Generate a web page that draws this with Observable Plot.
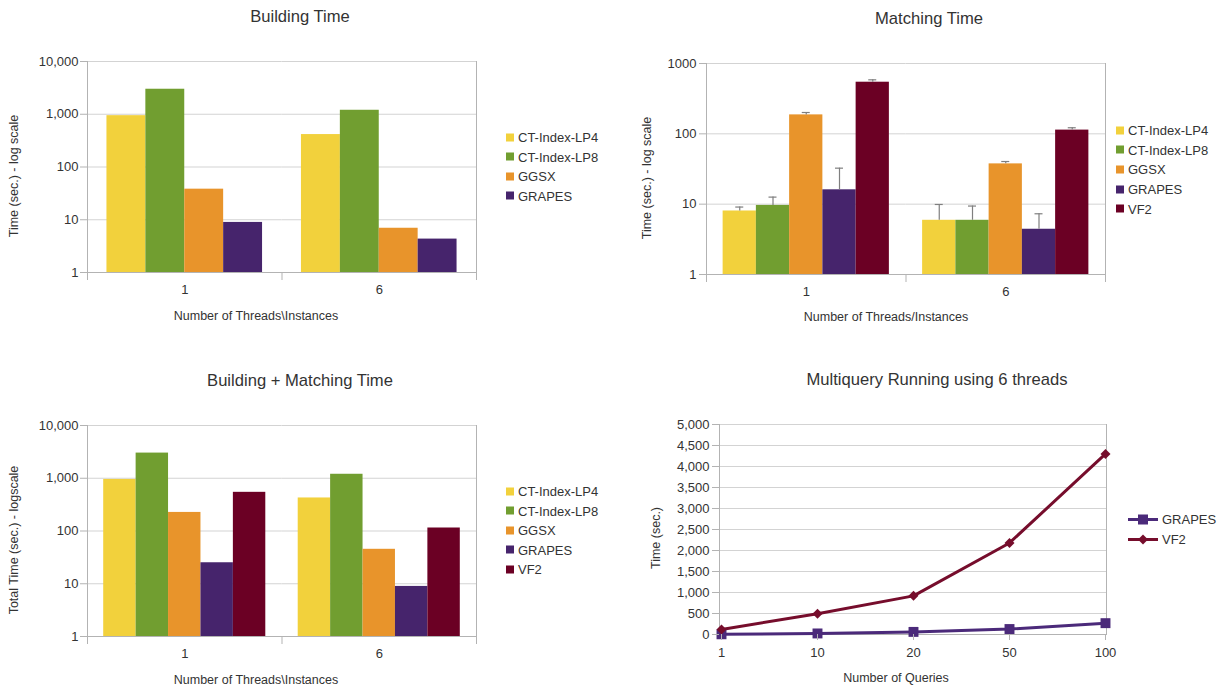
<!DOCTYPE html>
<html>
<head>
<meta charset="utf-8">
<script src="https://cdn.jsdelivr.net/npm/d3@7"></script>
<script src="https://cdn.jsdelivr.net/npm/@observablehq/plot@0.6"></script>
<style>
  body { margin: 0; background: #fff; font-family: "Liberation Sans", Arial, sans-serif; color: #333; }
  #page { position: relative; width: 1220px; height: 687px; overflow: hidden; background: #fff; }
  .abs { position: absolute; white-space: nowrap; }
  .c { transform: translate(-50%, -50%); }
  .r { transform: translate(-50%, -50%) rotate(-90deg); }
  .title { font-size: 16.6px; color: #333; }
  .atitle { font-size: 12.5px; color: #333; }
  .leg { font-size: 13px; color: #333; display: flex; align-items: center; transform: translateY(-50%); }
  .sw { width: 8px; height: 8px; margin-right: 4px; display: inline-block; }
  .panel { position: absolute; }
</style>
</head>
<body>
<div id="page"></div>
<script>
// ---------------- DATA ----------------
const threads = ["1", "6"];
const buildSeries = ["CT-Index-LP4", "CT-Index-LP8", "GGSX", "GRAPES"];
const buildTime1 = [940, 2980, 38, 8.9];
const buildTime6 = [412, 1190, 6.9, 4.3];

const matchSeries = ["CT-Index-LP4", "CT-Index-LP8", "GGSX", "GRAPES", "VF2"];
const matchTime1 = [8.0, 9.6, 186, 16, 542];
const matchErrTop1 = [9.1, 12.6, 201, 32.5, 586];
const matchTime6 = [5.9, 5.9, 37.4, 4.4, 113];
const matchErrTop6 = [9.9, 9.4, 40.4, 7.3, 122];

const totalTime1 = [950, 3000, 225, 25, 541];
const totalTime6 = [423, 1190, 45, 8.9, 114];

const queries = ["1", "10", "20", "50", "100"];
const lineSeries = ["GRAPES", "VF2"];
const grapesQuery = [5, 25, 62, 130, 270];
const vf2Query = [120, 495, 920, 2180, 4300];

const logTicks10k = [1, 10, 100, 1000, 10000];
const logTicks1k = [1, 10, 100, 1000];
const linTicks = [0, 500, 1000, 1500, 2000, 2500, 3000, 3500, 4000, 4500, 5000];

const barColors = ["#f2d13c", "#719e30", "#e8942b", "#46246c", "#6b0024"];
const lineColors = ["#4b2a7a", "#760d2c"];

// ---------------- STYLE ----------------
const gridColor = "#d3d3d3";
const axisColor = "#b3b3b3";
const errColor = "#7f7f7f";
const font = "'Liberation Sans', Arial, sans-serif";
const page = document.getElementById("page");

function rows(series, v1, v6, e1, e6) {
  return threads.flatMap((t, ti) => series.map((s, i) => ({
    threads: t, series: s,
    value: (ti ? v6 : v1)[i],
    err: e1 ? (ti ? e6 : e1)[i] : null
  })));
}

function addText(cls, text, x, y) {
  const d = document.createElement("div");
  d.className = "abs " + cls;
  d.textContent = text;
  d.style.left = x + "px";
  d.style.top = y + "px";
  page.appendChild(d);
}

function addLegend(series, colors, x, y, step) {
  series.forEach((s, i) => {
    const d = document.createElement("div");
    d.className = "abs leg";
    d.style.left = x + "px";
    d.style.top = (y + i * step) + "px";
    const sw = document.createElement("span");
    sw.className = "sw";
    sw.style.background = colors[i];
    d.appendChild(sw);
    d.appendChild(document.createTextNode(s));
    page.appendChild(d);
  });
}

function barPanel(o) {
  const innerW = o.width - o.ml - o.mr;
  const innerH = o.height - o.mt - o.mb;
  const bw = innerW / threads.length / (o.series.length + 1);
  const capInset = (bw - 8) / 2;
  const data = o.data;
  const marks = [
    Plot.gridY(o.ticks, {stroke: gridColor, strokeOpacity: 1}),
    Plot.barY(data, {fx: "threads", x: "series", y1: 1, y2: "value", fill: "series"})
  ];
  if (o.errors) {
    marks.push(
      Plot.ruleX(data, {fx: "threads", x: "series", y1: "value", y2: "err", stroke: errColor, strokeWidth: 1.2}),
      Plot.tickY(data, {fx: "threads", x: "series", y: "err", stroke: errColor, strokeWidth: 1.2, insetLeft: capInset, insetRight: capInset})
    );
  }
  marks.push(
    Plot.frame({anchor: "left", stroke: axisColor, facetAnchor: "left"}),
    Plot.frame({anchor: "right", stroke: axisColor, facetAnchor: "right"}),
    Plot.frame({anchor: "bottom", stroke: axisColor}),
    Plot.frame({anchor: "left", stroke: axisColor, insetTop: innerH, insetBottom: -7}),
    Plot.frame({anchor: "right", stroke: axisColor, insetTop: innerH, insetBottom: -7, facetAnchor: "right"}),
    Plot.axisY({ticks: o.ticks, tickFormat: o.format, tickSize: 7, tickPadding: o.tickPad, stroke: axisColor, fill: "#333", label: null, fontSize: 13}),
    Plot.axisFx({anchor: "bottom", tickSize: 0, tickPadding: 12, fill: "#333", label: null, fontSize: 13})
  );
  const svg = Plot.plot({
    width: o.width, height: o.height,
    marginLeft: o.ml, marginRight: o.mr, marginTop: o.mt, marginBottom: o.mb,
    style: {fontFamily: font, fontSize: "13px", color: "#333", background: "transparent"},
    fx: {domain: threads, padding: 0, round: false},
    x: {domain: o.series, paddingInner: 0, paddingOuter: 0.5, round: false, axis: null},
    y: {type: "log", domain: o.domain},
    color: {domain: matchSeries, range: barColors},
    marks
  });
  const wrap = document.createElement("div");
  wrap.className = "panel";
  wrap.style.left = o.left + "px";
  wrap.style.top = o.top + "px";
  wrap.appendChild(svg);
  page.appendChild(wrap);
}

// Panel 1: Building Time
barPanel({
  left: 0, top: 0, width: 600, height: 340, ml: 87, mr: 124, mt: 61, mb: 68,
  series: buildSeries, data: rows(buildSeries, buildTime1, buildTime6),
  domain: [1, 10000], ticks: logTicks10k, format: d3.format(","), tickPad: 2
});
addText("title c", "Building Time", 300, 17);
addText("atitle r", "Time (sec.) - log scale", 14, 176);
addText("atitle c", "Number of Threads\\Instances", 256, 316);
addLegend(buildSeries, barColors, 506, 137, 19.6);

// Panel 2: Matching Time
barPanel({
  left: 610, top: 0, width: 610, height: 340, ml: 96, mr: 115, mt: 63, mb: 66,
  series: matchSeries, data: rows(matchSeries, matchTime1, matchTime6, matchErrTop1, matchErrTop6),
  errors: true,
  domain: [1, 1000], ticks: logTicks1k, format: d3.format("d"), tickPad: 3
});
addText("title c", "Matching Time", 929, 19);
addText("atitle r", "Time (sec.) - log scale", 647, 178);
addText("atitle c", "Number of Threads/Instances", 886, 317);
addLegend(matchSeries, barColors, 1116, 130, 19.7);

// Panel 3: Building + Matching Time
barPanel({
  left: 0, top: 360, width: 600, height: 327, ml: 87, mr: 124, mt: 65, mb: 51,
  series: matchSeries, data: rows(matchSeries, totalTime1, totalTime6),
  domain: [1, 10000], ticks: logTicks10k, format: d3.format(","), tickPad: 2
});
addText("title c", "Building + Matching Time", 300, 381);
addText("atitle r", "Total Time (sec.) - logscale", 14, 540);
addText("atitle c", "Number of Threads\\Instances", 256, 680);
addLegend(matchSeries, barColors, 506, 491, 19.6);

// Panel 4: Multiquery Running using 6 threads
{
  const lineRows = lineSeries.flatMap((s, si) =>
    queries.map((q, i) => ({series: s, q, v: (si ? vf2Query : grapesQuery)[i]})));
  const svg = Plot.plot({
    width: 610, height: 327, marginLeft: 109, marginRight: 114, marginTop: 64, marginBottom: 53,
    style: {fontFamily: font, fontSize: "13px", color: "#333", background: "transparent"},
    x: {type: "point", domain: queries, padding: 0},
    y: {domain: [0, 5000]},
    color: {domain: lineSeries, range: lineColors},
    marks: [
      Plot.gridY(linTicks, {stroke: gridColor, strokeOpacity: 1}),
      Plot.frame({anchor: "right", stroke: axisColor}),
      Plot.frame({anchor: "left", stroke: axisColor}),
      Plot.frame({anchor: "bottom", stroke: axisColor}),
      Plot.lineY(lineRows, {x: "q", y: "v", stroke: "series", strokeWidth: 3}),
      Plot.dot(lineRows.filter(d => d.series === "GRAPES"), {x: "q", y: "v", fill: "series", symbol: "square", r: 5.6, stroke: "none"}),
      Plot.dot(lineRows.filter(d => d.series === "VF2"), {x: "q", y: "v", fill: "series", symbol: "diamond2", r: 4.5, stroke: "none"}),
      Plot.axisY({ticks: linTicks, tickFormat: d3.format(","), tickSize: 7, tickPadding: 3, stroke: axisColor, fill: "#333", label: null, fontSize: 13}),
      Plot.axisX({anchor: "bottom", tickSize: 6, tickPadding: 7, stroke: axisColor, fill: "#333", label: null, fontSize: 13})
    ]
  });
  const wrap = document.createElement("div");
  wrap.className = "panel";
  wrap.style.left = "610px";
  wrap.style.top = "360px";
  wrap.appendChild(svg);
  page.appendChild(wrap);

  addText("title c", "Multiquery Running using 6 threads", 937, 380);
  addText("atitle r", "Time (sec.)", 656, 538);
  addText("atitle c", "Number of Queries", 896, 678);

  // line legend
  lineSeries.forEach((s, i) => {
    const d = document.createElement("div");
    d.className = "abs leg";
    d.style.left = "1128px";
    d.style.top = (519 + i * 20.3) + "px";
    const sw = d3.create("svg").attr("width", 34).attr("height", 12).style("margin-right", "0px");
    sw.append("line").attr("x1", 0).attr("x2", 30).attr("y1", 6).attr("y2", 6)
      .attr("stroke", lineColors[i]).attr("stroke-width", 3);
    sw.append("path").attr("transform", "translate(15,6)")
      .attr("d", d3.symbol(i ? d3.symbolDiamond2 : d3.symbolSquare, i ? 64 : 100)())
      .attr("fill", lineColors[i]);
    d.appendChild(sw.node());
    d.appendChild(document.createTextNode(s));
    page.appendChild(d);
  });
}
</script>
</body>
</html>
